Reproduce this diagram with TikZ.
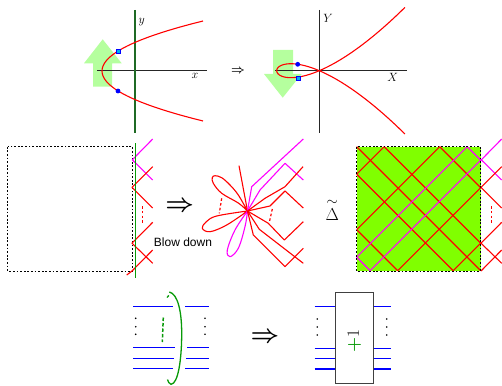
\documentclass[tikz,border=0pt]{standalone}
\usepackage{amsmath,amssymb}
\usepackage{fontspec}
\newfontfamily\labelfont{Liberation Sans}
\usetikzlibrary{positioning,calc}
\definecolor{paleg}{HTML}{B5FF9E}
\definecolor{chart}{HTML}{80FF00}
\definecolor{midg}{HTML}{089A08}
\definecolor{darkg}{HTML}{1F6A25}
\definecolor{mag}{HTML}{FF00FF}
\tikzset{
  axis/.style={draw=black!85, line width=0.8pt},
  crv/.style={draw=red, line width=1.1pt, line join=round},
  mcrv/.style={draw=mag, line width=1.1pt, line join=round},
  sheet/.style={draw=black, dash pattern=on 1.8pt off 1.8pt, line width=0.8pt},
  strand/.style={draw=blue, line width=1.1pt},
  blowdash/.style={draw=red, line width=1.2pt, dash pattern=on 2.6pt off 2.2pt},
  pt/.style={circle, fill=blue, inner sep=0pt, minimum size=4.8pt},
  sq/.style={rectangle, draw=blue, fill=cyan, line width=0.8pt, inner sep=0pt, minimum size=4pt},
  twist/.style={draw=black!75, fill=white, line width=0.9pt, inner sep=0pt},
  bigto/.style={font=\fontsize{26}{30}\selectfont\boldmath},
}
\begin{document}
\begin{tikzpicture}[x=1pt,y=-1pt]
\useasboundingbox (0,0) rectangle (502,385);
% parabola
\fill[paleg] (102.7,39.3) -- (121.7,63.3) -- (112,63.3) -- (112,86.7) -- (93,86.7) -- (93,63.3) -- (84,63.3) -- cycle;
\draw[axis] (97,70.7) -- (207,70.7);
\draw[darkg, line width=1.4pt] (135,10) -- (135,133);
\draw[crv,domain=-50:50,samples=41,smooth,variable=\t] plot ({102+0.0404*\t*\t},{71+\t});
\node[sq] (a1) at (118,51) {};
\node[pt] (b1) at (118,91) {};
\node[font=\large] (xlab) at (195,76) {$x$};
\node[font=\large] (ylab) at (141.7,22.5) {$y$};
\node[font=\large\boldmath] (to1) at (238,71) {$\Rightarrow$};
% nodal cubic
\fill[paleg] (273,50) -- (293,50) -- (293,74) -- (301.7,74) -- (282.7,97.7) -- (264,74) -- (273,74) -- cycle;
\draw[axis] (275,70.7) -- (407,70.7);
\draw[axis] (319.3,10) -- (319.3,133);
\draw[crv,domain=-1.735:1.735,samples=61,smooth,variable=\t] plot ({319.3+42.6*(\t*\t-1)},{70.7-18.15*\t*(\t*\t-1)});
\node[pt] (b2) at (297.7,64.3) {};
\node[sq] (a2) at (298.3,78.3) {};
\node[font=\large] (Xlab) at (392.7,77.5) {$X$};
\node[font=\large] (Ylab) at (328,18) {$Y$};
% sheets
\fill[chart] (356.7,146.7) rectangle (480.7,271);
\begin{scope}[shift={(356.7,146.7)}]
  \foreach \a/\b/\c/\d in {0/0/124/124,0/27.5/96.5/124,0/83/41/124,27.5/0/124/96.5,83/0/124/41,0/27.5/27.5/0,0/83/83/0,41/124/124/41,96.5/124/124/96.5}
    \draw[crv] (\a,\b) -- (\c,\d);
  \foreach \a/\b/\c/\d in {0/110.5/13.5/124,110.5/0/124/13.5,0/110.5/110.5/0,13.5/124/124/13.5}
    \draw[mcrv] (\a,\b) -- (\c,\d);
\end{scope}
\draw[sheet] (7.7,146.7) rectangle (132.3,271);
\draw[sheet] (356.7,146.7) rectangle (480.7,271);
% crossings at the edge
\foreach \dx in {0,349} {
  \begin{scope}[xshift=\dx]
    \draw[mcrv] (152.7,139) -- (132.3,159.8) -- (152.7,180);
    \draw[crv] (152.7,166.7) -- (132,187.4) -- (152.7,208);
    \draw[crv] (152.7,222.3) -- (132,243.2) -- (152.7,263.3);
    \draw[crv] (152.7,250) -- (132,271);
    \draw[blowdash] (142.3,206) -- (142.3,223);
  \end{scope}
}
\draw[crv] (132,271) -- (126.7,275);
\draw[midg, line width=1.4pt] (135.7,143) -- (135.7,278);
% blown down picture
\coordinate (c) at (247.5,211);
\draw[crv] (239,165.7) -- (c);
\draw[crv] plot[smooth,tension=0.6] coordinates {(c) (238.3,203) (221.7,193.3) (213.3,183.3) (212.3,177.7) (215,175.7) (221.7,177.7) (230,185) (238.3,195) (c)};
\draw[crv] plot[smooth,tension=0.6] coordinates {(c) (216.7,216) (206,222) (202.3,228.3) (210,231.7) (226.7,225) (c)};
\draw[mcrv] plot[smooth,tension=0.6] coordinates {(c) (235,230) (227.3,250) (230,256.7) (238.3,248.3) (245,226.7) (c)};
\draw[mcrv] (c) -- (251.7,186.7) -- (303.3,139);
\draw[mcrv] (c) -- (260,190) -- (285,163.3) -- (303.3,180);
\draw[crv] (c) -- (265,198.3) -- (285,186.7) -- (303,166.7);
\draw[crv] (c) -- (270,206) -- (285,191) -- (303.3,208);
\draw[crv] (c) -- (268.3,223.3) -- (284.3,240) -- (303.3,221.7);
\draw[crv] (c) -- (259.3,229.3) -- (303.3,263.3);
\draw[crv] (c) -- (253.3,235) -- (285,266.7) -- (303.3,248.3);
\draw[blowdash] (221.7,198.3) -- (219.3,213.3);
\draw[blowdash] (272.3,209) -- (269.3,222.3);
\node[bigto] (to2) at (179.7,206.7) {$\Rightarrow$};
\node[font=\labelfont\fontsize{12}{14}\selectfont] (blow) at (183,242) {Blow down};
\node[font=\LARGE, inner sep=0pt] (delta) at (332.3,215) {$\Delta$};
\node[font=\Large, inner sep=0pt, above=3pt of delta] (tld) {$\sim$};
% braid with a loop
\foreach \y/\l/\r in {306.7/172.7/185,347.7/175/187.3,358.3/174.3/186.3,368.7/172.7/185} {
  \draw[strand] (133.3,\y) -- (\l,\y);
  \draw[strand] (\r,\y) -- (209.3,\y);
}
\foreach \y in {318.3,326.7,334.3} {
  \fill (135.7,\y) circle (0.9pt);
  \fill (205,\y) circle (0.9pt);
}
\draw[midg, line width=1.3pt] (169.3,292) .. controls (178,294) and (181.7,312) .. (181.7,333.3) .. controls (181.7,360) and (178,384) .. (171,384.3) .. controls (169,384.3) and (168,381) .. (167.5,379.5);
\draw[midg, line width=1.3pt] (168.8,295.5) -- (167,297.5);
\draw[midg, line width=1.5pt, dash pattern=on 3.5pt off 2pt] (163.3,317.5) -- (162.3,342);
% twist box
\node[twist, minimum width=38pt, minimum height=91pt] (box) at (354.3,337.8) {};
\foreach \y in {306.7,348.3,358.7,369} {
  \draw[strand] (314.7,\y) -- (box.west |- 0,\y);
  \draw[strand] (box.east |- 0,\y) -- (390.7,\y);
}
\foreach \y in {319,327,335} {
  \fill (317.3,\y) circle (0.9pt);
  \fill (386.7,\y) circle (0.9pt);
}
\node[rotate=90, font=\LARGE, inner sep=0pt] (plusone) at (354.3,341) {\textcolor{midg}{$\boldsymbol{+}$}1};
\node[bigto] (to3) at (265,337.7) {$\Rightarrow$};
\end{tikzpicture}
\end{document}
